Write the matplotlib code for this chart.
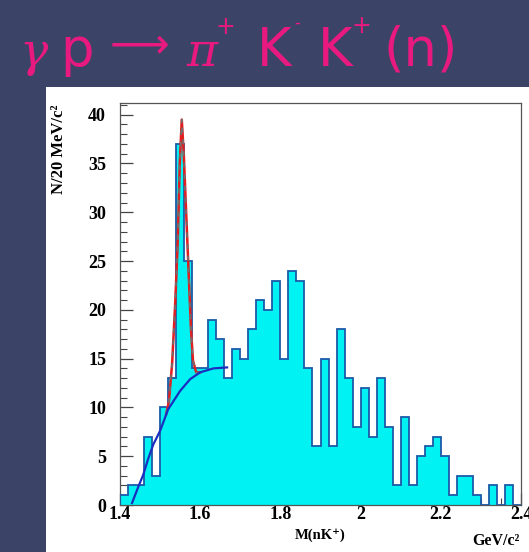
import numpy as np
import matplotlib
matplotlib.use("Agg")
import matplotlib.pyplot as plt
from matplotlib.patches import Rectangle
from matplotlib.ticker import MultipleLocator

# histogram, 20 MeV bins from 1.40 to 2.40 GeV
bin_lo = 1.40
bin_hi = 2.40
counts = [1, 2, 2, 7, 3, 10, 13, 37, 25, 14,
          14, 19, 17, 13, 16, 15, 18, 21, 20, 23,
          15, 24, 23, 14, 6, 15, 6, 18, 13, 8,
          12, 7, 13, 8, 2, 9, 2, 5, 6, 7,
          5, 1, 3, 3, 1, 0, 2, 0, 2, 0]

# background fit (blue)
bg_m = [1.430, 1.445, 1.458, 1.470, 1.483, 1.500, 1.520, 1.550,
        1.575, 1.600, 1.633, 1.667]
bg_n = [0.2, 1.8, 3.1, 4.7, 6.2, 7.6, 9.8, 11.7, 12.9, 13.6, 14.0, 14.1]

# signal + background fit (red dashed)
fit_m = [1.515, 1.522, 1.530, 1.538, 1.544, 1.549, 1.554, 1.559,
         1.565, 1.571, 1.577, 1.582, 1.590, 1.600]
fit_n = [9.3, 10.6, 14.5, 21.0, 27.0, 35.0, 39.5, 36.0,
         30.0, 24.0, 18.0, 14.8, 13.6, 13.6]

W, H = 529, 552
serif = ["Liberation Serif", "DejaVu Serif"]
fig = plt.figure(figsize=(W / 100, H / 100), dpi=100)
fig.patch.set_facecolor("#3b4466")
fig.patches.append(Rectangle((46 / W, 0), 1 - 46 / W, (H - 87) / H,
                             transform=fig.transFigure, facecolor="white",
                             edgecolor="none", zorder=-10))

# title
pink = "#e8197f"
def tpx(x, y, s, **kw):
    fig.text(x / W, 1 - y / H, s, color=pink, va="baseline", ha="left", **kw)

tpx(19, 66, "γ", fontsize=34, family="DejaVu Serif", style="italic")
tpx(60, 66, "p", fontsize=38)
tpx(110, 57, "⟶", fontsize=30)
tpx(186, 66, "π", fontsize=34, family="DejaVu Serif", style="italic")
tpx(216, 34, "+", fontsize=17)
tpx(257, 66, "K", fontsize=38)
tpx(294, 28, "-", fontsize=12)
tpx(318, 66, "K", fontsize=38)
tpx(352, 33, "+", fontsize=17)
tpx(383, 66, "(n)", fontsize=38)

ax = fig.add_axes([120 / W, (H - 505) / H, 401 / W, 402 / H])
ax.set_zorder(2)
edges = np.linspace(bin_lo, bin_hi, len(counts) + 1)
ax.stairs(counts, edges, fill=True, color="#00f2f2", zorder=2)
ax.stairs(counts, edges, baseline=0, color="#1d5aa8", lw=1.3, zorder=3)

ax.plot(fit_m, fit_n, color="#e02020", lw=1.8, zorder=4)
ax.plot(fit_m, fit_n, color="#707070", lw=1.2, ls=(0, (3, 4)), zorder=5)
ax.plot(bg_m, bg_n, color="#1a2fc0", lw=1.6, zorder=6)

ax.set_xlim(1.4, 2.4)
ax.set_ylim(0, 41.2)
ax.xaxis.set_major_locator(MultipleLocator(0.2))
ax.xaxis.set_minor_locator(MultipleLocator(0.05))
ax.yaxis.set_major_locator(MultipleLocator(5))
ax.yaxis.set_minor_locator(MultipleLocator(1))
ax.set_xticks([1.4, 1.6, 1.8, 2.0, 2.2, 2.4])
ax.set_xticklabels(["1.4", "1.6", "1.8", "2", "2.2", "2.4"])
ax.tick_params(which="both", direction="in", color="#444444",
               top=False, right=False)
ax.tick_params(which="major", length=9, width=0.9, labelsize=13)
ax.tick_params(axis="x", which="major", pad=1)
ax.tick_params(axis="y", which="major", pad=10)
ax.tick_params(which="minor", length=5, width=0.8)
for lab in ax.get_xticklabels() + ax.get_yticklabels():
    lab.set_family(serif)
    lab.set_weight("bold")
for sp in ax.spines.values():
    sp.set_color("#555555")
    sp.set_linewidth(0.9)

fig.text(59 / W, 1 - 149 / H, "N/20 MeV/c²", rotation=90, ha="center",
         va="center", fontsize=12, family=serif, weight="bold")
fig.text(320 / W, 1 - 535 / H, "M(nK⁺)", ha="center", va="center",
         fontsize=10.5, family=serif, weight="bold")
fig.text(496 / W, 1 - 541 / H, "GeV/c²", ha="center", va="center",
         fontsize=11.5, family=serif, weight="bold")

fig.savefig("out.png", dpi=100, facecolor=fig.get_facecolor())
